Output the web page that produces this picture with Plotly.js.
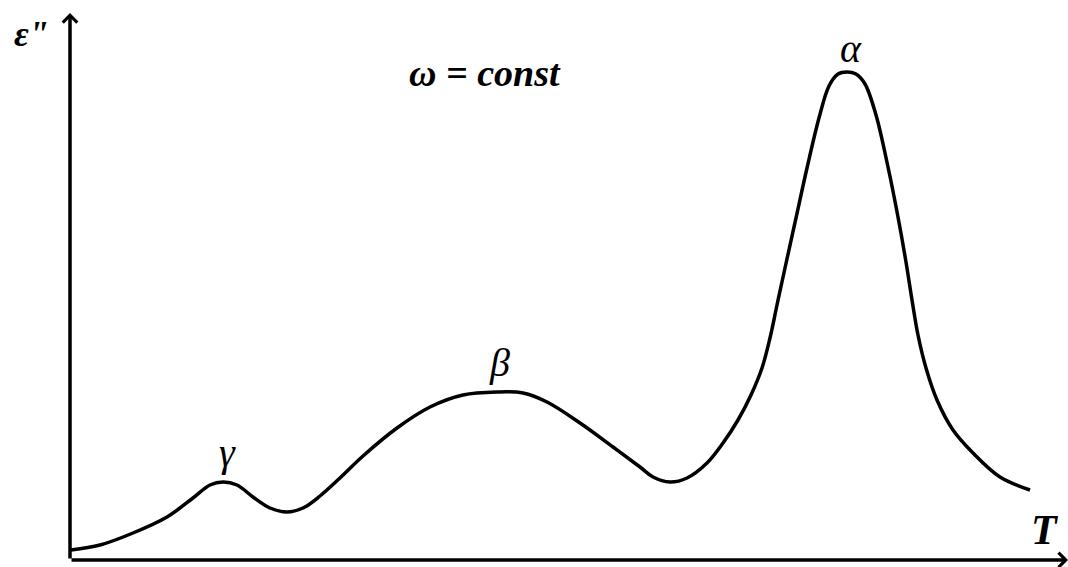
<!DOCTYPE html>
<html>
<head>
<meta charset="utf-8">
<script src="https://cdn.plot.ly/plotly-3.0.1.min.js"></script>
<style>html,body{margin:0;padding:0;background:#fff;}#chart{width:1068px;height:567px;}</style>
</head>
<body>
<div id="chart"></div>
<script>
// Temperature (arbitrary units) and dielectric loss eps'' (arbitrary units)
const temperature = [1,30,63,97,123,140,153,167,183,200,217,233,250,270,293,327,360,393,427,453,477,510,543,570,583,600,617,637,653,668,681,692,700,707,715,726,737,749,759,768,777,786,795,806,818,828,836,842,848,856,867,883,903,930,960];
const epsLoss =     [10,15,27,43,62,75,78,75,63,52,48,52,64,82,104,132,153,165,168,167,158,137,113,93,83,78,82,97,117,140,165,192,222,255,292,342,392,442,474,486,488,486,476,445,393,343,298,260,225,192,160,130,107,83,70];

const peakLabels = ['γ', 'β', 'α'];
const peakT = [157, 429, 781];
const peakLabelY = [108, 198, 512];

const axisMaxT = 998;
const axisMaxEps = 547;

const FONT = 'Liberation Serif';

const annotations = [
  // axes with arrows
  {x: axisMaxT, y: 0, ax: 0, ay: 0, xref: 'x', yref: 'y', axref: 'x', ayref: 'y',
   text: '', showarrow: true, arrowhead: 4, arrowsize: 0.8, arrowwidth: 3.5, arrowcolor: '#000'},
  {x: 0, y: axisMaxEps, ax: 0, ay: 0, xref: 'x', yref: 'y', axref: 'x', ayref: 'y',
   text: '', showarrow: true, arrowhead: 4, arrowsize: 0.8, arrowwidth: 3.5, arrowcolor: '#000'},
  // axis labels
  {x: -0.039, y: 0.961, xref: 'paper', yref: 'paper', xanchor: 'center', yanchor: 'middle',
   text: '<b><i>ε"</i></b>', showarrow: false,
   font: {family: FONT, size: 36, color: '#000'}},
  {x: 0.993, y: 0.055, xref: 'paper', yref: 'paper', xanchor: 'right', yanchor: 'middle',
   text: '<b><i>T</i></b>', showarrow: false,
   font: {family: FONT, size: 42, color: '#000'}},
  {x: 0.416, y: 0.89, xref: 'paper', yref: 'paper', xanchor: 'center', yanchor: 'middle',
   text: '<b><i>ω = const</i></b>', showarrow: false,
   font: {family: FONT, size: 38, color: '#000'}}
];
for (let i = 0; i < peakLabels.length; i++) {
  annotations.push({x: peakT[i], y: peakLabelY[i], xref: 'x', yref: 'y', text: '<i>' + peakLabels[i] + '</i>', showarrow: false,
    font: {family: FONT, size: 40, color: '#000'}});
}

const trace = {
  x: temperature, y: epsLoss, type: 'scatter', mode: 'lines',
  line: {color: '#000', width: 3.5, shape: 'spline', smoothing: 1},
  hoverinfo: 'skip'
};

const layout = {
  width: 1068, height: 567,
  margin: {l: 70, r: 0, t: 13, b: 7, pad: 0},
  paper_bgcolor: '#fff', plot_bgcolor: '#fff',
  showlegend: false,
  xaxis: {range: [0, axisMaxT], visible: false, fixedrange: true},
  yaxis: {range: [0, axisMaxEps], visible: false, fixedrange: true},
  annotations: annotations
};

Plotly.newPlot('chart', [trace], layout, {staticPlot: true, displayModeBar: false});
</script>
</body>
</html>
